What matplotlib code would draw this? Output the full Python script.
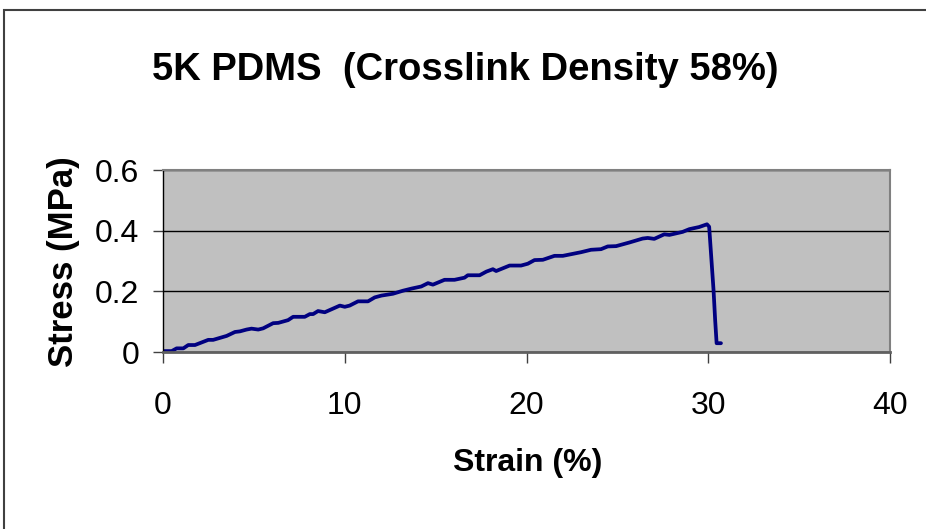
import matplotlib.pyplot as plt
from matplotlib.patches import Rectangle

# Tensile test readings for the 5K PDMS film
strain = [0.0, 0.48, 0.75, 1.12, 1.39, 1.76, 2.49, 2.76, 3.5, 3.96, 4.23, 4.6,
          4.87, 5.24, 5.51, 6.06, 6.34, 6.88, 7.16, 7.8, 8.08, 8.26, 8.53, 8.9,
          9.73, 10.0, 10.27, 10.73, 11.28, 11.65, 12.02, 12.65, 13.2, 13.67,
          14.21, 14.58, 14.85, 15.49, 16.04, 16.59, 16.77, 17.42, 17.79, 18.15,
          18.33, 19.07, 19.7, 20.07, 20.44, 20.9, 21.54, 22.0, 23.0, 23.55,
          24.1, 24.47, 24.93, 25.66, 26.39, 26.67, 27.03, 27.58, 27.86, 28.59,
          28.96, 29.5, 29.93, 30.05, 30.24, 30.29, 30.38, 30.46, 30.7]
stress = [0.003, 0.003, 0.012, 0.012, 0.023, 0.023, 0.040, 0.040, 0.053, 0.066,
          0.068, 0.074, 0.077, 0.074, 0.078, 0.095, 0.096, 0.105, 0.116, 0.116,
          0.125, 0.125, 0.135, 0.131, 0.153, 0.149, 0.153, 0.167, 0.167, 0.180,
          0.186, 0.192, 0.202, 0.209, 0.216, 0.227, 0.222, 0.238, 0.238, 0.245,
          0.253, 0.253, 0.265, 0.273, 0.267, 0.285, 0.285, 0.291, 0.303, 0.304,
          0.317, 0.317, 0.329, 0.337, 0.339, 0.348, 0.349, 0.361, 0.374, 0.376,
          0.373, 0.388, 0.386, 0.396, 0.405, 0.412, 0.421, 0.413, 0.248, 0.205,
          0.105, 0.029, 0.029]

x_ticks = [0, 10, 20, 30, 40]
y_ticks = [0, 0.2, 0.4, 0.6]
y_tick_labels = ['0', '0.2', '0.4', '0.6']

plt.rcParams['font.family'] = ['Liberation Sans', 'DejaVu Sans']

fig = plt.figure(figsize=(9.26, 5.29), dpi=100)
fig.patch.set_facecolor('white')

# chart-area frame (runs off the right and bottom edges)
fig.patches.append(Rectangle((4 / 926, -0.1), 1.2, 1 - 10 / 529 + 0.1,
                             transform=fig.transFigure, fill=False,
                             edgecolor='#404040', linewidth=1.5))

ax = fig.add_axes([163 / 926, 1 - 352 / 529, (890 - 163) / 926, (352 - 170) / 529])
ax.set_facecolor('#C0C0C0')

ax.plot(strain, stress, color='#000080', linewidth=2.7,
        solid_joinstyle='round', solid_capstyle='round')

ax.set_xlim(0, 40)
ax.set_ylim(0, 0.6)
ax.set_xticks(x_ticks)
ax.set_yticks(y_ticks)
ax.set_yticklabels(y_tick_labels)

ax.grid(True, axis='y', color='black', linewidth=1)
ax.set_axisbelow(True)

for side in ['top', 'right']:
    ax.spines[side].set_color('#808080')
    ax.spines[side].set_linewidth(1.5)
ax.spines['bottom'].set_color('#606060')
ax.spines['bottom'].set_linewidth(2)
ax.spines['left'].set_color('black')
ax.spines['left'].set_linewidth(1)

ax.tick_params(axis='x', direction='out', length=8, width=1, color='#404040',
               labelsize=23, pad=20)
ax.tick_params(axis='y', direction='out', length=7, width=1, color='#404040',
               labelsize=23, pad=10)

fig.text(465 / 926, 1 - 70 / 529, '5K PDMS  (Crosslink Density 58%)',
         ha='center', va='center', fontsize=27.5, fontweight='bold')
fig.text(528 / 926, 1 - 463 / 529, 'Strain (%)', ha='center', va='center',
         fontsize=23, fontweight='bold')
fig.text(63 / 926, 1 - 262 / 529, 'Stress (MPa)', ha='center', va='center',
         rotation=90, fontsize=25, fontweight='bold')

fig.savefig('out.png', dpi=100)
